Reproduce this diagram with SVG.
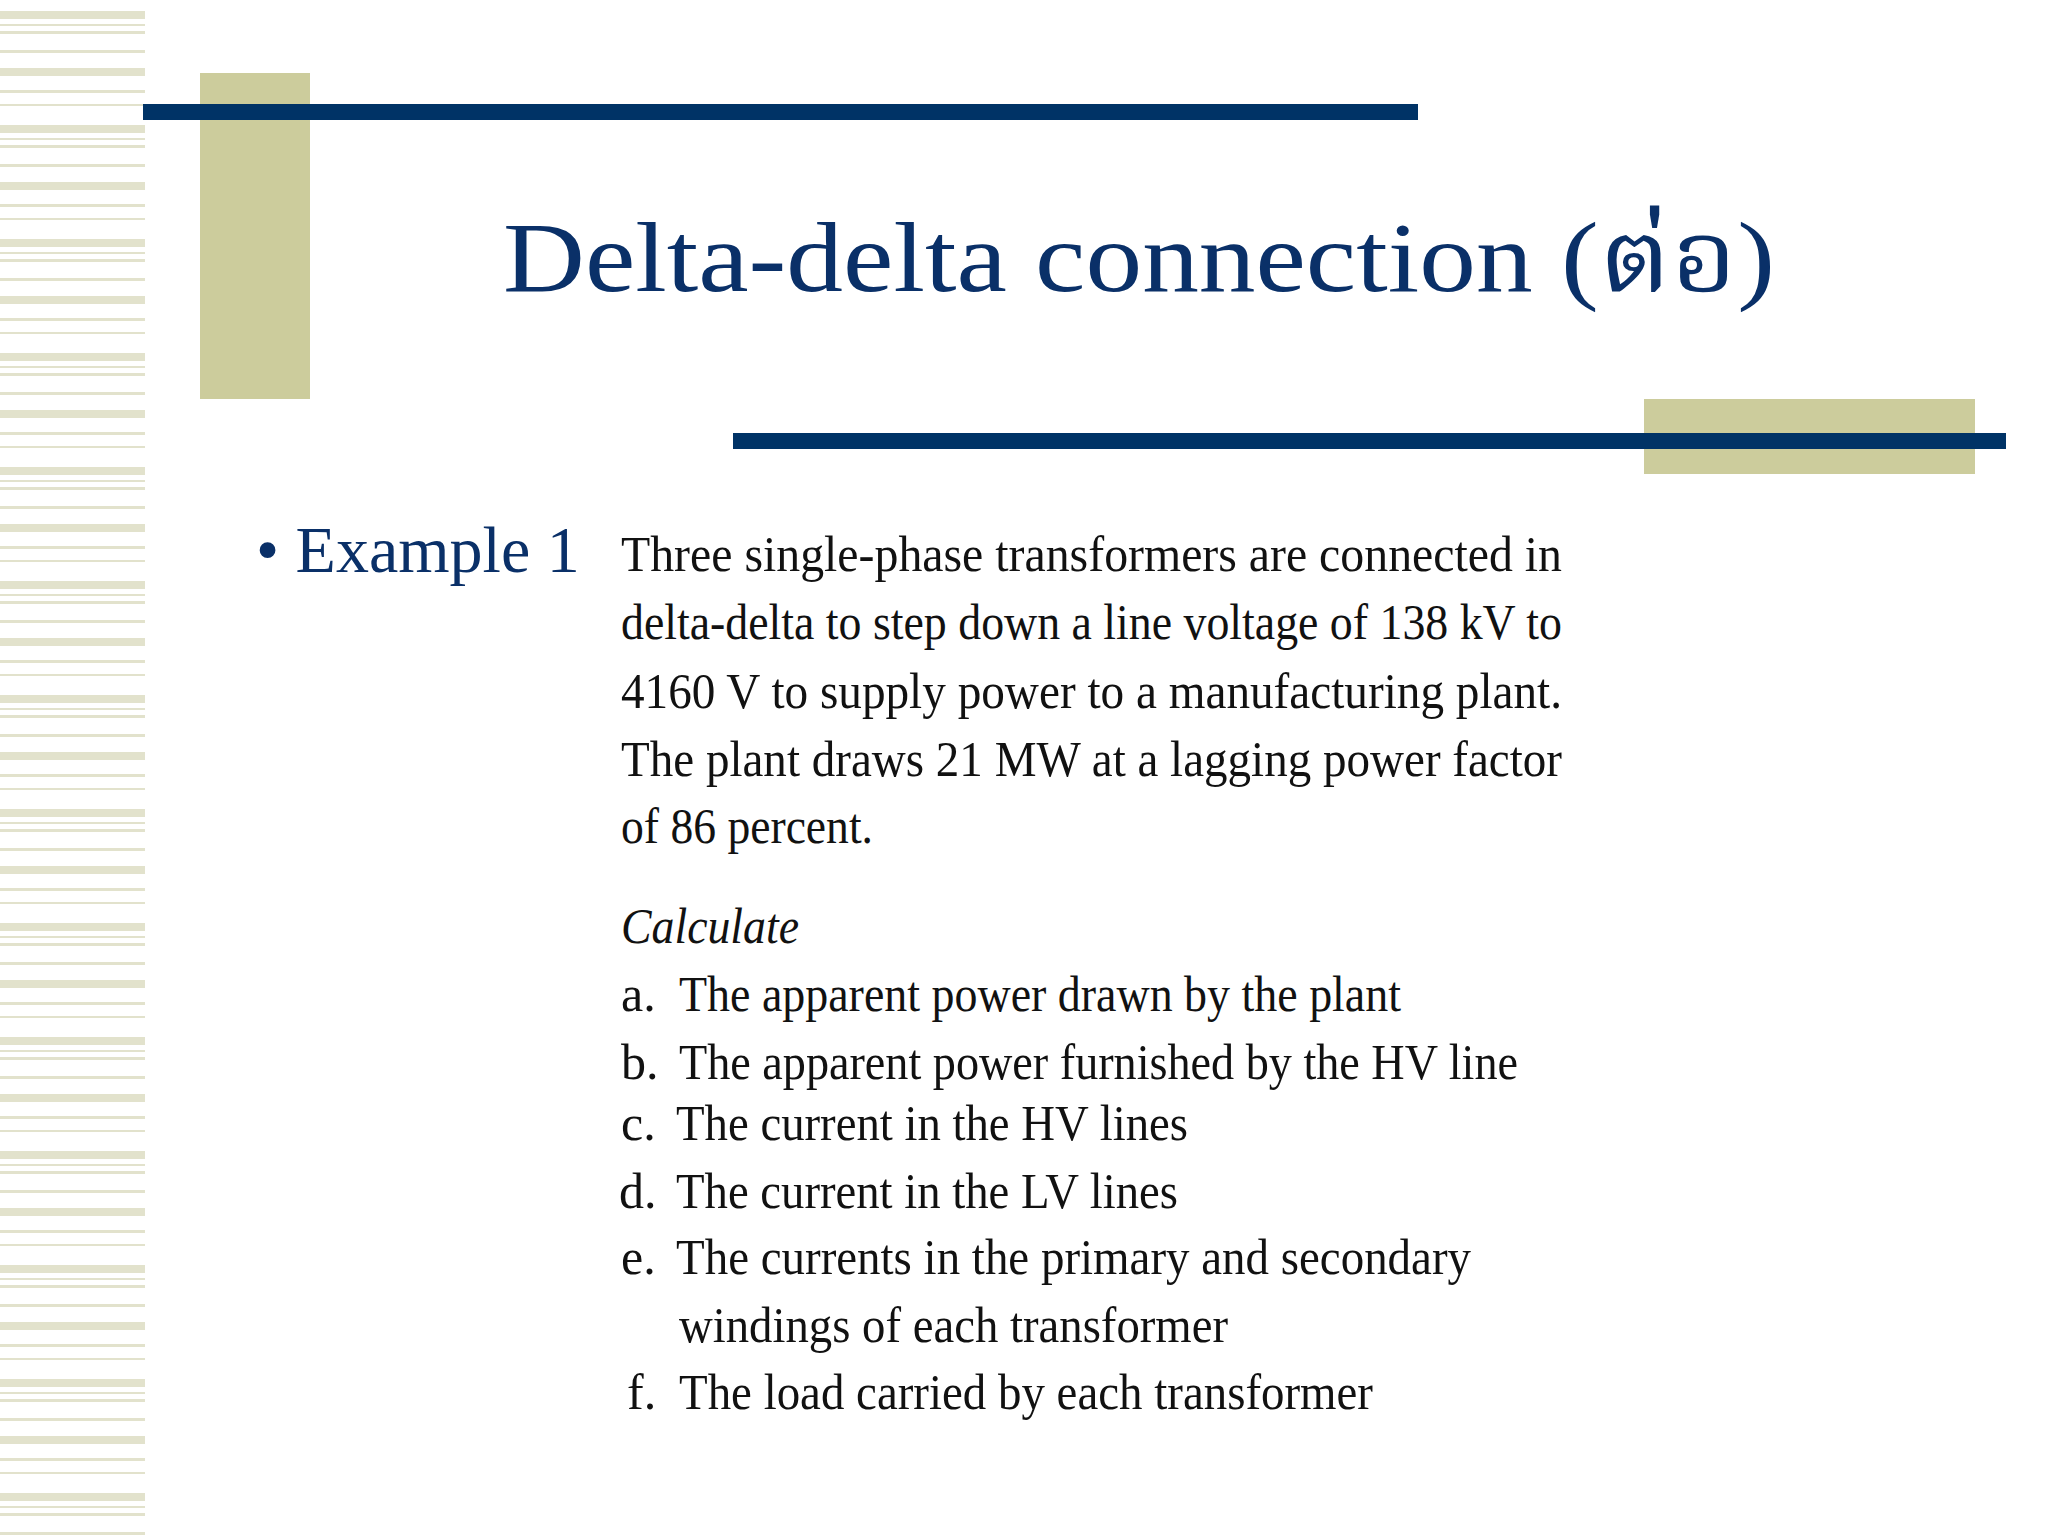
<svg xmlns="http://www.w3.org/2000/svg" width="2048" height="1536" viewBox="0 0 2048 1536">
<style>
.b{font-family:"Liberation Serif","Times New Roman",serif;font-size:50px;fill:#111}
.t{font-family:"Liberation Serif","Noto Serif Thai","Noto Sans Thai",serif;fill:#0a3068}
</style>
<defs>
<pattern id="st" x="0" y="0" width="145" height="114" patternUnits="userSpaceOnUse">
<rect x="0" y="11" width="145" height="8" fill="#e2e2cc"/>
<rect x="0" y="24" width="145" height="2" fill="#e2e2cc"/>
<rect x="0" y="31" width="145" height="3" fill="#e2e2cc"/>
<rect x="0" y="50" width="145" height="3" fill="#e2e2cc"/>
<rect x="0" y="68" width="145" height="8" fill="#e2e2cc"/>
<rect x="0" y="90" width="145" height="3" fill="#e2e2cc"/>
<rect x="0" y="104" width="145" height="2" fill="#e2e2cc"/>
</pattern>
</defs>
<rect width="2048" height="1536" fill="#fff"/>
<rect x="0" y="0" width="145" height="1536" fill="url(#st)"/>
<g id="deco">
<rect x="200" y="73" width="110" height="326" fill="#cccc9c"/>
<rect x="143" y="104" width="1275" height="16" fill="#003366"/>
<rect x="1644" y="399" width="331" height="75" fill="#cccc9c"/>
<rect x="733" y="433" width="1273" height="16" fill="#003366"/>
</g>
<g id="title"><text class="t" x="503" y="291" font-size="100" textLength="1272" lengthAdjust="spacingAndGlyphs">Delta-delta connection (ต่อ)</text></g>
<g id="bullet"><text class="t" x="256" y="572" font-size="66">• Example 1</text></g>
<g id="body">
<text class="b" x="621" y="571" textLength="941" lengthAdjust="spacingAndGlyphs">Three single-phase transformers are connected in</text>
<text class="b" x="621" y="639" textLength="941" lengthAdjust="spacingAndGlyphs">delta-delta to step down a line voltage of 138 kV to</text>
<text class="b" x="621" y="708" textLength="941" lengthAdjust="spacingAndGlyphs">4160 V to supply power to a manufacturing plant.</text>
<text class="b" x="621" y="776" textLength="941" lengthAdjust="spacingAndGlyphs">The plant draws 21 MW at a lagging power factor</text>
<text class="b" x="621" y="843" textLength="252" lengthAdjust="spacingAndGlyphs">of 86 percent.</text>
<text class="b" x="621" y="943" font-style="italic" textLength="178" lengthAdjust="spacingAndGlyphs">Calculate</text>
<text class="b" x="621" y="1011">a.</text><text class="b" x="679" y="1011" textLength="722" lengthAdjust="spacingAndGlyphs">The apparent power drawn by the plant</text>
<text class="b" x="621" y="1079">b.</text><text class="b" x="679" y="1079" textLength="839" lengthAdjust="spacingAndGlyphs">The apparent power furnished by the HV line</text>
<text class="b" x="621" y="1140">c.</text><text class="b" x="676" y="1140" textLength="512" lengthAdjust="spacingAndGlyphs">The current in the HV lines</text>
<text class="b" x="619" y="1208">d.</text><text class="b" x="676" y="1208" textLength="502" lengthAdjust="spacingAndGlyphs">The current in the LV lines</text>
<text class="b" x="621" y="1274">e.</text><text class="b" x="676" y="1274" textLength="795" lengthAdjust="spacingAndGlyphs">The currents in the primary and secondary</text>
<text class="b" x="679" y="1342" textLength="549" lengthAdjust="spacingAndGlyphs">windings of each transformer</text>
<text class="b" x="627" y="1409">f.</text><text class="b" x="679" y="1409" textLength="694" lengthAdjust="spacingAndGlyphs">The load carried by each transformer</text>
</g>
</svg>
